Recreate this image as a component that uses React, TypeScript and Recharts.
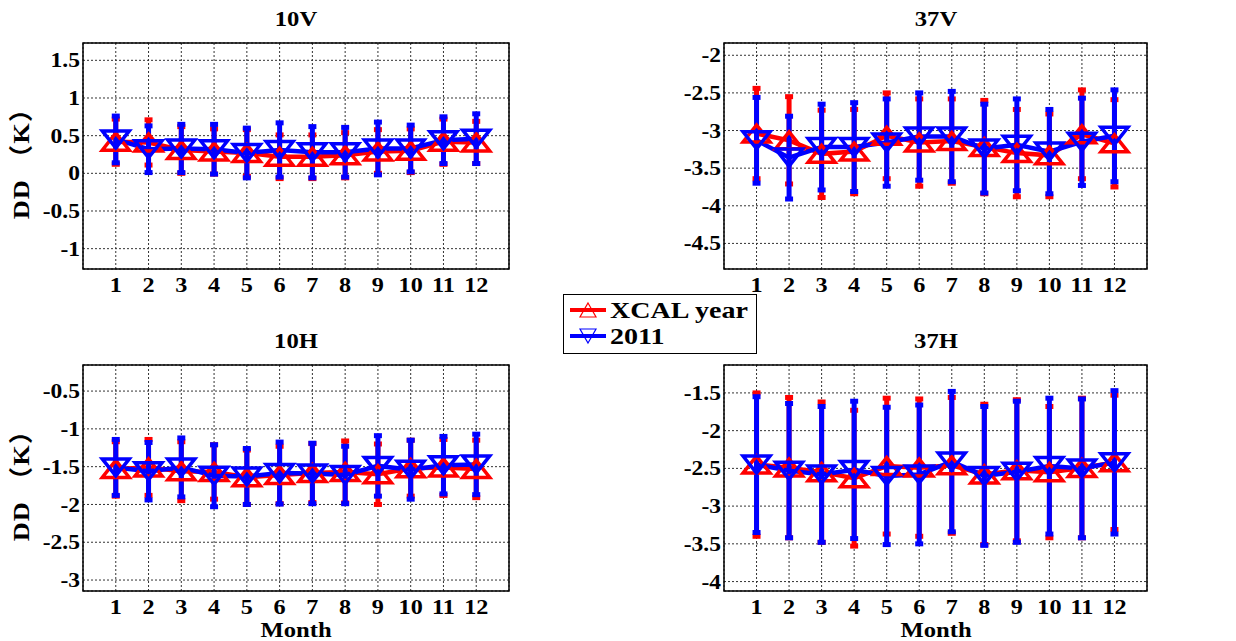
import React from 'react';
import { LineChart, Line, XAxis, YAxis, CartesianGrid, ErrorBar, ReferenceArea } from 'recharts';

const months = [1, 2, 3, 4, 5, 6, 7, 8, 9, 10, 11, 12];

// 10V
const v10Xcal = [0.42, 0.41, 0.31, 0.29, 0.27, 0.22, 0.22, 0.24, 0.29, 0.30, 0.42, 0.41];
const v10XcalErr = [0.30, 0.30, 0.31, 0.30, 0.31, 0.29, 0.29, 0.30, 0.29, 0.29, 0.30, 0.28];
const v10Y2011 = [0.45, 0.32, 0.33, 0.32, 0.27, 0.31, 0.28, 0.28, 0.33, 0.33, 0.44, 0.46];
const v10Y2011Err = [0.31, 0.31, 0.32, 0.33, 0.33, 0.36, 0.34, 0.33, 0.35, 0.31, 0.31, 0.33];
const v10Ticks = [-1, -0.5, 0, 0.5, 1, 1.5];

// 37V
const v37Xcal = [-3.04, -3.13, -3.31, -3.28, -3.07, -3.16, -3.14, -3.22, -3.30, -3.33, -3.05, -3.17];
const v37XcalErr = [0.60, 0.58, 0.58, 0.56, 0.57, 0.58, 0.56, 0.62, 0.58, 0.55, 0.59, 0.58];
const v37Y2011 = [-3.13, -3.36, -3.22, -3.22, -3.16, -3.08, -3.08, -3.24, -3.19, -3.28, -3.15, -3.07];
const v37Y2011Err = [0.57, 0.55, 0.57, 0.59, 0.58, 0.58, 0.60, 0.59, 0.61, 0.56, 0.58, 0.61];
const v37Ticks = [-4.5, -4, -3.5, -3, -2.5, -2];

// 10H
const h10Xcal = [-1.53, -1.51, -1.56, -1.57, -1.64, -1.61, -1.585, -1.57, -1.60, -1.52, -1.51, -1.53];
const h10XcalErr = [0.36, 0.37, 0.39, 0.36, 0.36, 0.38, 0.39, 0.41, 0.40, 0.37, 0.37, 0.38];
const h10Y2011 = [-1.51, -1.56, -1.51, -1.62, -1.63, -1.585, -1.59, -1.61, -1.49, -1.54, -1.48, -1.47];
const h10Y2011Err = [0.37, 0.38, 0.39, 0.41, 0.37, 0.41, 0.40, 0.38, 0.40, 0.39, 0.38, 0.40];
const h10Ticks = [-3, -2.5, -2, -1.5, -1, -0.5];

// 37H
const h37Xcal = [-2.45, -2.49, -2.55, -2.63, -2.47, -2.49, -2.46, -2.58, -2.525, -2.55, -2.495, -2.42];
const h37XcalErr = [0.95, 0.93, 0.93, 0.90, 0.90, 0.91, 0.90, 0.93, 0.935, 0.87, 0.925, 0.89];
const h37Y2011 = [-2.45, -2.53, -2.58, -2.52, -2.60, -2.58, -2.41, -2.60, -2.545, -2.47, -2.50, -2.42];
const h37Y2011Err = [0.90, 0.89, 0.90, 0.91, 0.91, 0.92, 0.93, 0.92, 0.935, 0.90, 0.92, 0.95];
const h37Ticks = [-4, -3.5, -3, -2.5, -2, -1.5];

const seriesNames = ['XCAL year', '2011'];

const RED = '#ff0000';
const BLUE = '#0000ff';
const FONT = '"Liberation Serif", "Times New Roman", serif';
const YLABEL_FONT = '"Liberation Serif", "Noto Sans CJK SC", serif';

const build = (a: number[], ae: number[], b: number[], be: number[]) =>
  months.map((m, i) => ({ month: m, xcal: a[i], xcalErr: ae[i], y2011: b[i], y2011Err: be[i] }));

const panels = [
  { title: '10V', data: build(v10Xcal, v10XcalErr, v10Y2011, v10Y2011Err), ticks: v10Ticks, domain: [-1.27, 1.73], left: 83, top: 43, w: 426, showYLabel: true, showMonth: false },
  { title: '37V', data: build(v37Xcal, v37XcalErr, v37Y2011, v37Y2011Err), ticks: v37Ticks, domain: [-4.84, -1.837], left: 724, top: 43, w: 423, showYLabel: false, showMonth: false },
  { title: '10H', data: build(h10Xcal, h10XcalErr, h10Y2011, h10Y2011Err), ticks: h10Ticks, domain: [-3.145, -0.155], left: 83, top: 365, w: 426, showYLabel: true, showMonth: true },
  { title: '37H', data: build(h37Xcal, h37XcalErr, h37Y2011, h37Y2011Err), ticks: h37Ticks, domain: [-4.125, -1.13], left: 724, top: 365, w: 423, showYLabel: false, showMonth: true },
];

const PLOT_H = 226;
const YW = 70;
const XH = 30;
const MT = 10;
const MR = 10;
const MB = 5;

const XTick = (props: any) => {
  const { x, y, payload } = props;
  return (
    <text transform={`translate(${x},${y + 7}) scale(1.1,1)`} textAnchor="middle" dominantBaseline="central"
      fontFamily={FONT} fontWeight="bold" fontSize={22} fill="#000">
      {payload.value}
    </text>
  );
};

const YTick = (props: any) => {
  const { x, y, payload } = props;
  return (
    <text transform={`translate(${x + 5},${y}) scale(1.12,1)`} textAnchor="end" dominantBaseline="central"
      fontFamily={FONT} fontWeight="bold" fontSize={21} fill="#000">
      {String(payload.value)}
    </text>
  );
};

const makeTri = (color: string, up: boolean, w: number, h: number, sw: number) => (props: any) => {
  const { cx, cy, index } = props;
  if (cx == null || cy == null) return <g key={index} />;
  const pts = up
    ? `${cx},${cy - h / 2} ${cx + w / 2},${cy + h / 2} ${cx - w / 2},${cy + h / 2}`
    : `${cx},${cy + h / 2} ${cx + w / 2},${cy - h / 2} ${cx - w / 2},${cy - h / 2}`;
  return <polygon key={index} points={pts} fill="none" stroke={color} strokeWidth={sw} strokeLinejoin="miter" />;
};

const redDot = makeTri(RED, true, 27, 17, 3.5);
const blueDot = makeTri(BLUE, false, 27, 17, 3.5);

const textStyle: React.CSSProperties = {
  position: 'absolute',
  fontFamily: FONT,
  fontWeight: 'bold',
  color: '#000',
  whiteSpace: 'nowrap',
  lineHeight: 0.8,
};

const Panel = ({ p }: { p: any }) => {
  const width = YW + p.w + MR;
  const height = MT + PLOT_H + XH + MB;
  return (
    <>
      <div style={{ position: 'absolute', left: p.left - YW, top: p.top - MT, width, height }}>
        <LineChart width={width} height={height} data={p.data} margin={{ top: MT, right: MR, bottom: MB, left: 0 }}>
          <CartesianGrid stroke="#333" strokeDasharray="2 2" strokeWidth={1} />
          <XAxis dataKey="month" type="number" domain={[0, 13]} ticks={months} allowDataOverflow
            axisLine={false} tickLine={false} height={XH} tick={<XTick />} interval={0} />
          <YAxis type="number" domain={p.domain} ticks={p.ticks} allowDataOverflow
            axisLine={false} tickLine={false} width={YW} tick={<YTick />} interval={0} />
          <ReferenceArea x1={0} x2={13} y1={p.domain[0]} y2={p.domain[1]} fill="none" stroke="#000" strokeWidth={1.5} ifOverflow="visible" />
          <Line dataKey="xcal" name={seriesNames[0]} stroke={RED} strokeWidth={4.5} dot={redDot} isAnimationActive={false} activeDot={false}>
            <ErrorBar dataKey="xcalErr" direction="y" stroke={RED} strokeWidth={5} width={4} isAnimationActive={false} />
          </Line>
          <Line dataKey="y2011" name={seriesNames[1]} stroke={BLUE} strokeWidth={4.5} dot={blueDot} isAnimationActive={false} activeDot={false}>
            <ErrorBar dataKey="y2011Err" direction="y" stroke={BLUE} strokeWidth={5} width={4} isAnimationActive={false} />
          </Line>
        </LineChart>
      </div>
      <div style={{ ...textStyle, fontSize: 22, left: p.left + p.w / 2, top: p.top - 24, transform: 'translate(-50%,-50%) scaleX(1.12)' }}>
        {p.title}
      </div>
      {p.showYLabel && (
        <div style={{ ...textStyle, fontFamily: YLABEL_FONT, fontSize: 24, letterSpacing: 1, left: 22, top: p.top + 114, transform: 'translate(-50%,-50%) rotate(-90deg) scaleX(1.1)' }}>
          DD （K）
        </div>
      )}
      {p.showMonth && (
        <div style={{ ...textStyle, fontSize: 22, left: p.left + p.w / 2, top: p.top + PLOT_H + 39, transform: 'translate(-50%,-50%) scaleX(1.12)' }}>
          Month
        </div>
      )}
    </>
  );
};

const LegendRow = ({ color, up, label }: { color: string; up: boolean; label: string }) => {
  const Tri = makeTri(color, up, 16, 14, 1.2);
  return (
    <div style={{ display: 'flex', alignItems: 'center', height: 26 }}>
      <svg width={40} height={26} style={{ display: 'block' }}>
        <line x1={2} x2={38} y1={13} y2={13} stroke={color} strokeWidth={4} />
        {Tri({ cx: 20, cy: 13, index: 0 })}
      </svg>
      <span style={{ fontFamily: FONT, fontWeight: 'bold', fontSize: 23, lineHeight: 1, display: 'inline-block', transform: 'scaleX(1.22)', transformOrigin: 'left center', marginLeft: 2 }}>
        {label}
      </span>
    </div>
  );
};

export default function App() {
  return (
    <div style={{ position: 'absolute', left: 0, top: 0, width: 1236, height: 641, background: '#fff', overflow: 'hidden' }}>
      {panels.map((p) => (
        <Panel key={p.title} p={p} />
      ))}
      <div style={{ position: 'absolute', left: 563, top: 294, width: 192, height: 56, border: '1.5px solid #000', background: '#fff', boxSizing: 'content-box', paddingTop: 2 }}>
        <div style={{ marginLeft: 4 }}>
          <LegendRow color={RED} up={true} label={seriesNames[0]} />
          <LegendRow color={BLUE} up={false} label={seriesNames[1]} />
        </div>
      </div>
    </div>
  );
}
